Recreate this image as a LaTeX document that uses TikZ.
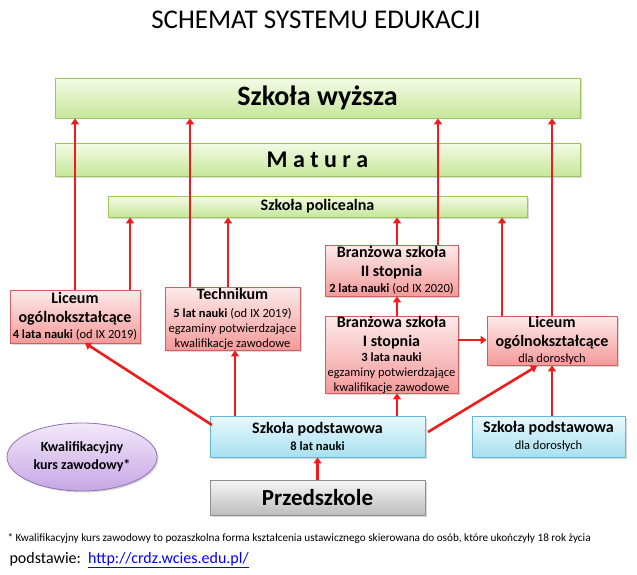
\documentclass[tikz,border=0pt]{standalone}
\usepackage{fontspec}
\setmainfont{Carlito}
\usetikzlibrary{arrows.meta,shapes.geometric,shadows}
\definecolor{grA}{HTML}{F4FBE6}\definecolor{grB}{HTML}{C6E69A}\definecolor{grD}{HTML}{9CC65E}
\definecolor{rdA}{HTML}{FDEAEA}\definecolor{rdB}{HTML}{F49A9A}\definecolor{rdD}{HTML}{D06060}
\definecolor{blA}{HTML}{EAF8FC}\definecolor{blB}{HTML}{A6E0F0}\definecolor{blD}{HTML}{62B8D4}
\definecolor{gyA}{HTML}{F6F6F6}\definecolor{gyB}{HTML}{BDBDBD}\definecolor{gyD}{HTML}{8E8E8E}
\definecolor{puA}{HTML}{F2E8FA}\definecolor{puB}{HTML}{C6A6E4}\definecolor{puD}{HTML}{9070B8}
\definecolor{arr}{HTML}{EE1C1C}
\tikzset{
 bx/.style={draw, line width=0.8pt, drop shadow={shadow xshift=1.5pt,shadow yshift=-1.5pt,opacity=0.3}, align=center, inner sep=0pt},
 gbox/.style={bx, draw=grD, top color=grA, bottom color=grB},
 rbox/.style={bx, draw=rdD, top color=rdA, bottom color=rdB},
 bbox/.style={bx, draw=blD, top color=blA, bottom color=blB},
 ybox/.style={bx, draw=gyD, top color=gyA, bottom color=gyB},
 ar/.style={draw=arr, line width=2.6pt, -{Triangle[length=6pt,width=8pt]}},
 tx/.style={align=center, font=\fontsize{16}{19}\selectfont\bfseries}
}
\newcommand{\sml}[1]{{\fontsize{12.5}{14}\mdseries\selectfont #1}}
\newcommand{\bxat}[6]{\node[#1, minimum width=#4pt-#2pt, minimum height=#5pt-#3pt] (#6) at ({(#2+#4)/2},{(#3+#5)/2}) {};}
\begin{document}
\begin{tikzpicture}[x=1pt,y=-1pt]
\useasboundingbox (0,0) rectangle (637,575);
\node (title) at (316,20) {\fontsize{27}{30}\selectfont SCHEMAT SYSTEMU EDUKACJI};
\bxat{gbox}{55}{78}{580}{118}{wy}
\node at (wy) {\fontsize{28}{30}\selectfont\bfseries Szkoła wyższa};
\bxat{gbox}{55}{143}{580}{176}{ma}
\node at (ma) {\fontsize{24}{26}\selectfont\bfseries M a t u r a};
\bxat{gbox}{108}{196}{527}{217}{po}
\node[tx] at (po) {Szkoła policealna};
\bxat{rbox}{10}{290}{140}{343}{lo}
\node[tx] at (lo) {Liceum\\ogólnokształcące\\[-3pt]\sml{\textbf{4 lata nauki} (od IX 2019)}};
\bxat{rbox}{165}{287}{300}{350}{te}
\node[tx] at (te) {Technikum\\[-1pt]\sml{\textbf{5 lat nauki} (od IX 2019)}\\[-4pt]\sml{egzaminy potwierdzające}\\[-4pt]\sml{kwalifikacje zawodowe}};
\bxat{rbox}{325}{245}{458}{296}{b2}
\node[tx] at (b2) {Branżowa szkoła\\II stopnia\\[-3pt]\sml{\textbf{2 lata nauki} (od IX 2020)}};
\bxat{rbox}{325}{316}{458}{393}{b1}
\node[tx] at (b1) {Branżowa szkoła\\I stopnia\\[-4pt]\sml{\textbf{3 lata nauki}}\\[-4pt]\sml{egzaminy potwierdzające}\\[-4pt]\sml{kwalifikacje zawodowe}};
\bxat{rbox}{487}{316}{617}{365}{ld}
\node[tx] at (ld) {Liceum\\ogólnokształcące\\[-3pt]\sml{dla dorosłych}};
\bxat{bbox}{210}{416}{425}{457}{sp}
\node[tx] at (sp) {Szkoła podstawowa\\[-2pt]\sml{\textbf{8 lat nauki}}};
\bxat{bbox}{472}{416}{625}{457}{sd}
\node[tx] at (sd) {Szkoła podstawowa\\[-2pt]\sml{dla dorosłych}};
\bxat{ybox}{210}{480}{425}{515}{pr}
\node at (pr) {\fontsize{23}{26}\selectfont\bfseries Przedszkole};
\node[ellipse, draw=puD, line width=0.8pt, top color=puA, bottom color=puB, minimum width=150pt, minimum height=68pt, align=center, font=\fontsize{14}{18}\selectfont\bfseries, drop shadow={shadow xshift=1.5pt,shadow yshift=-1.5pt,opacity=0.3}] (ku) at (82,457) {Kwalifikacyjny\\kurs zawodowy*};
\node[anchor=west] (fn) at (4,538) {\fontsize{11.2}{13}\selectfont * Kwalifikacyjny kurs zawodowy to pozaszkolna forma kształcenia ustawicznego skierowana do osób, które ukończyły 18 rok życia};
\node[anchor=west] (src) at (6,560) {\fontsize{16}{18}\selectfont podstawie:\ \ \textcolor{blue}{\underline{http://crdz.wcies.edu.pl/}}};
% arrows
\draw[ar] (lo.north -| 75,0) -- (wy.south -| 75,0);
\draw[ar] (lo.north -| 130,0) -- (po.south -| 130,0);
\draw[ar] (te.north -| 190,0) -- (wy.south -| 190,0);
\draw[ar] (te.north -| 228,0) -- (po.south -| 228,0);
\draw[ar] (b2.north -| 397,0) -- (po.south -| 397,0);
\draw[ar] (b2.north -| 438,0) -- (wy.south -| 438,0);
\draw[ar] (ld.north -| 502,0) -- (po.south -| 502,0);
\draw[ar] (ld.north -| 552,0) -- (wy.south -| 552,0);
\draw[ar] (b1.north -| 397,0) -- (b2.south -| 397,0);
\draw[ar] (b1.east |- 0,340) -- (ld.west |- 0,340);
\coordinate (spl) at (212,425);
\coordinate (spr) at (428,432);
\draw[ar] (spl) -- (85,343);
\draw[ar] (sp.north -| 235,0) -- (te.south -| 235,0);
\draw[ar] (sp.north -| 397,0) -- (b1.south -| 397,0);
\draw[ar] (spr) -- (537,366);
\draw[ar] (sd.north -| 552,0) -- (ld.south -| 552,0);
\draw[ar] (pr.north) -- (sp.south);
\end{tikzpicture}
\end{document}
